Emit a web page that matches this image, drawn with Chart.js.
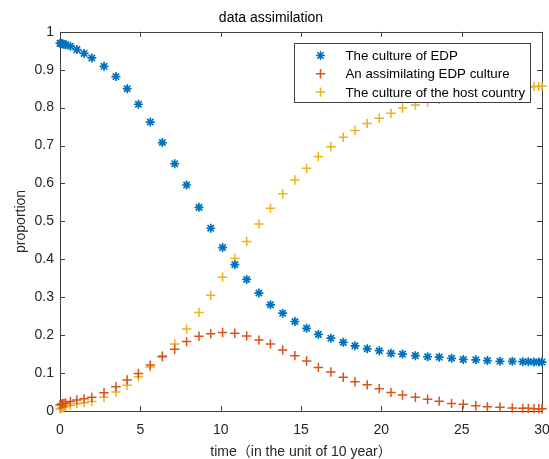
<!DOCTYPE html>
<html lang="en">
<head>
<meta charset="UTF-8">
<title>data assimilation</title>
<script src="https://cdn.jsdelivr.net/npm/chart.js@4/dist/chart.umd.min.js"></script>
<style>
  html, body { margin: 0; padding: 0; background: #fff; }
  #wrap { width: 549px; height: 459px; }
</style>
</head>
<body>
<div id="wrap"><canvas id="myChart"></canvas></div>
<script>
// time points of the solver (unit: 10 years)
const times = [0, 0.08, 0.16, 0.25, 0.35, 0.65, 1.05, 1.5, 1.98, 2.74, 3.48, 4.18, 4.88, 5.62, 6.37, 7.14,
  7.88, 8.65, 9.38, 10.12, 10.88, 11.62, 12.38, 13.1, 13.86, 14.62, 15.35, 16.08, 16.86, 17.63, 18.36,
  19.12, 19.87, 20.6, 21.32, 22.12, 22.88, 23.6, 24.37, 25.1, 25.88, 26.6, 27.38, 28.15, 28.8, 29.15,
  29.5, 29.8, 30];
const edpCulture = [0.970, 0.969, 0.968, 0.967, 0.966, 0.962, 0.953, 0.943, 0.931, 0.909, 0.882, 0.850,
  0.809, 0.762, 0.708, 0.652, 0.596, 0.537, 0.482, 0.431, 0.386, 0.347, 0.311, 0.280, 0.258, 0.236,
  0.218, 0.202, 0.192, 0.181, 0.172, 0.164, 0.159, 0.152, 0.150, 0.146, 0.143, 0.142, 0.139, 0.136,
  0.135, 0.133, 0.131, 0.131, 0.130, 0.130, 0.129, 0.129, 0.129];
const assimilating = [0.016, 0.018, 0.019, 0.020, 0.021, 0.025, 0.029, 0.032, 0.036, 0.048, 0.064, 0.082,
  0.099, 0.121, 0.143, 0.163, 0.183, 0.197, 0.204, 0.207, 0.205, 0.198, 0.187, 0.177, 0.161, 0.146,
  0.132, 0.115, 0.103, 0.089, 0.077, 0.069, 0.059, 0.049, 0.042, 0.036, 0.031, 0.026, 0.020, 0.018,
  0.014, 0.011, 0.010, 0.008, 0.007, 0.007, 0.006, 0.006, 0.006];
const hostCulture = [0.005, 0.007, 0.009, 0.011, 0.012, 0.015, 0.019, 0.022, 0.025, 0.036, 0.050, 0.068,
  0.090, 0.116, 0.146, 0.177, 0.216, 0.260, 0.305, 0.353, 0.402, 0.447, 0.493, 0.535, 0.573, 0.609,
  0.640, 0.671, 0.697, 0.722, 0.740, 0.758, 0.772, 0.785, 0.799, 0.807, 0.815, 0.822, 0.830, 0.836,
  0.841, 0.845, 0.849, 0.852, 0.854, 0.855, 0.856, 0.856, 0.857];
const seriesNames = ['The culture of EDP', 'An assimilating EDP culture', 'The culture of the host country'];
const xTicks = [0, 5, 10, 15, 20, 25, 30];
const yTicks = [0, 0.1, 0.2, 0.3, 0.4, 0.5, 0.6, 0.7, 0.8, 0.9, 1];

const FONT = '"Liberation Sans", Arial, "Noto Sans CJK SC", sans-serif';
const AXIS = '#404040';
const TEXT = '#262626';

function pts(vals) {
  return times.map((t, i) => ({ x: t, y: vals[i] }));
}

function drawMarker(ctx, style, x, y, r) {
  ctx.beginPath();
  ctx.moveTo(x - r, y); ctx.lineTo(x + r, y);
  ctx.moveTo(x, y - r); ctx.lineTo(x, y + r);
  if (style === 'star') {
    const d = r * Math.SQRT1_2;
    ctx.moveTo(x - d, y - d); ctx.lineTo(x + d, y + d);
    ctx.moveTo(x - d, y + d); ctx.lineTo(x + d, y - d);
  }
  ctx.stroke();
}

// matlab style frame with inward ticks on all four sides
const boxFrame = {
  id: 'boxFrame',
  beforeDatasetsDraw(chart) {
    const { ctx, chartArea: a, scales } = chart;
    ctx.save();
    ctx.strokeStyle = AXIS;
    ctx.lineWidth = 1;
    ctx.strokeRect(Math.round(a.left) + 0.5, Math.round(a.top) + 0.5,
      Math.round(a.right - a.left), Math.round(a.bottom - a.top));
    ctx.beginPath();
    xTicks.forEach(v => {
      const px = Math.round(scales.x.getPixelForValue(v)) + 0.5;
      ctx.moveTo(px, a.bottom); ctx.lineTo(px, a.bottom - 5);
      ctx.moveTo(px, a.top); ctx.lineTo(px, a.top + 5);
    });
    yTicks.forEach(v => {
      const py = Math.round(scales.y.getPixelForValue(v)) + 0.5;
      ctx.moveTo(a.left, py); ctx.lineTo(a.left + 5, py);
      ctx.moveTo(a.right, py); ctx.lineTo(a.right - 5, py);
    });
    ctx.stroke();
    ctx.restore();
  }
};

// legend box inside the axes, drawn over the markers
const boxLegend = {
  id: 'boxLegend',
  afterDatasetsDraw(chart) {
    const { ctx, chartArea: a } = chart;
    ctx.save();
    ctx.font = '13.3px ' + FONT;
    const tw = Math.max(...seriesNames.map(s => ctx.measureText(s).width));
    const w = Math.round(tw + 56), h = 59;
    const x0 = Math.round(a.right - 12 - w) + 0.5, y0 = Math.round(a.top + 11) + 0.5;
    ctx.fillStyle = '#fff';
    ctx.fillRect(x0, y0, w, h);
    ctx.strokeStyle = AXIS;
    ctx.lineWidth = 1;
    ctx.strokeRect(x0, y0, w, h);
    chart.data.datasets.forEach((ds, i) => {
      const cy = y0 + 12 + i * 18.3;
      ctx.strokeStyle = ds.borderColor;
      ctx.lineWidth = 1.5;
      drawMarker(ctx, ds.pointStyle, x0 + 26, cy, ds.pointRadius);
      ctx.fillStyle = '#000';
      ctx.textBaseline = 'middle';
      ctx.textAlign = 'left';
      ctx.fillText(ds.label, x0 + 51, cy + 1);
    });
    ctx.restore();
  }
};

const ctx = document.getElementById('myChart').getContext('2d');
const chart = new Chart(ctx, {
  type: 'scatter',
  data: {
    datasets: [
      { label: seriesNames[0], data: pts(edpCulture), pointStyle: 'star', pointRadius: 4.5,
        borderColor: '#0072BD', backgroundColor: '#0072BD', pointBorderWidth: 1.7, clip: false },
      { label: seriesNames[1], data: pts(assimilating), pointStyle: 'cross', pointRadius: 4.7,
        borderColor: '#D95319', backgroundColor: '#D95319', pointBorderWidth: 1.5, clip: false },
      { label: seriesNames[2], data: pts(hostCulture), pointStyle: 'cross', pointRadius: 4.7,
        borderColor: '#EDB120', backgroundColor: '#EDB120', pointBorderWidth: 1.5, clip: false }
    ]
  },
  options: {
    responsive: true,
    maintainAspectRatio: false,
    animation: false,
    layout: { padding: { left: 0, right: 7, top: 0, bottom: 0 } },
    plugins: {
      legend: { display: false },
      tooltip: { enabled: false },
      title: {
        display: true,
        text: 'data assimilation',
        color: '#000',
        font: { family: FONT, size: 14, weight: 'normal' },
        padding: { top: 10, bottom: 5 }
      }
    },
    scales: {
      x: {
        type: 'linear', min: 0, max: 30,
        afterBuildTicks: s => { s.ticks = xTicks.map(v => ({ value: v })); },
        afterFit: s => { s.height = 48; s.paddingLeft = 0; s.paddingRight = 0; },
        grid: { display: false, drawTicks: false },
        border: { display: false },
        ticks: { color: TEXT, padding: 11, maxRotation: 0, font: { family: FONT, size: 14 } },
        title: {
          display: true, text: 'time（in the unit of 10 year）', color: TEXT,
          font: { family: FONT, size: 14 }, padding: { top: 0, bottom: -2 }
        }
      },
      y: {
        type: 'linear', min: 0, max: 1,
        afterBuildTicks: s => { s.ticks = yTicks.map(v => ({ value: v })); },
        afterFit: s => { s.width = 60; },
        grid: { display: false, drawTicks: false },
        border: { display: false },
        ticks: { color: TEXT, padding: 6, font: { family: FONT, size: 14 },
          callback: v => String(+v.toFixed(1)) },
        title: {
          display: true, text: 'proportion', color: TEXT,
          font: { family: FONT, size: 14 }, padding: { top: 13, bottom: 0 }
        }
      }
    }
  },
  plugins: [boxFrame, boxLegend]
});
</script>
</body>
</html>
